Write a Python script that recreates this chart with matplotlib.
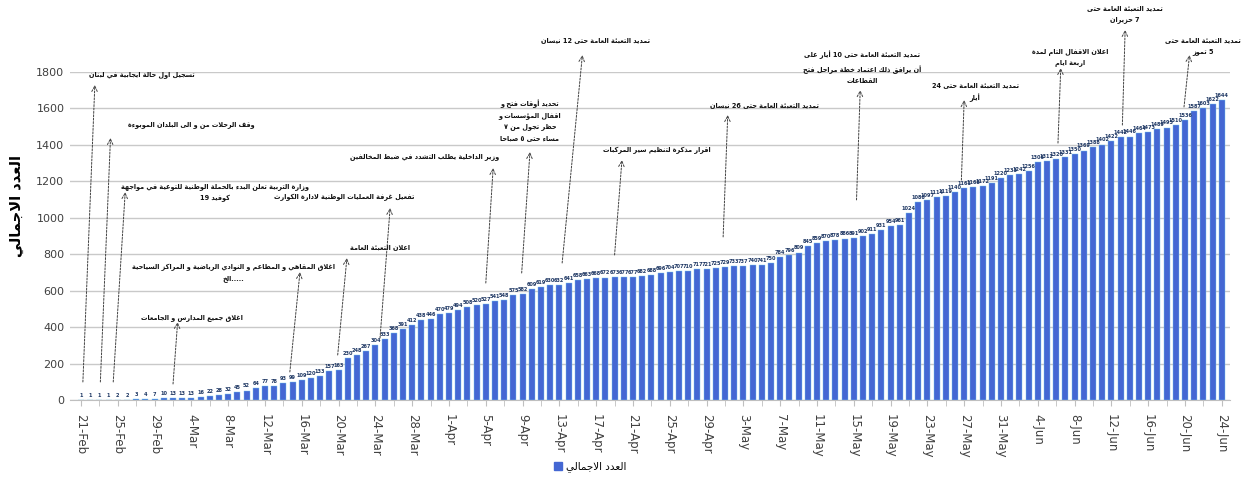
import re
import numpy as np
import pandas as pd
import matplotlib
matplotlib.use("Agg")
import matplotlib.pyplot as plt
from matplotlib.patches import Patch

# ---- data -------------------------------------------------------------
dates = pd.date_range("2020-02-21", "2020-06-24", freq="D")
cases_feb = [1, 1, 1, 1, 2, 2, 3, 4, 7]
cases_mar = [10, 13, 13, 13, 16, 22, 28, 32, 45, 52, 64, 77, 78, 93, 99, 109,
             120, 133, 157, 163, 230, 248, 267, 304, 333, 368, 391, 412, 438,
             446, 470]
cases_apr = [479, 494, 508, 520, 527, 541, 548, 575, 582, 609, 619, 630, 632,
             641, 658, 663, 668, 672, 673, 677, 677, 682, 688, 696, 704, 707,
             710, 717, 721, 725]
cases_may = [729, 733, 737, 740, 741, 750, 784, 796, 809, 845, 859, 870, 878,
             886, 891, 902, 911, 931, 954, 961, 1024, 1086, 1097, 1114, 1119,
             1140, 1161, 1168, 1172, 1191, 1220]
cases_jun = [1233, 1242, 1256, 1306, 1312, 1320, 1331, 1350, 1369, 1388, 1402,
             1422, 1442, 1446, 1464, 1473, 1489, 1495, 1510, 1536, 1587, 1603,
             1622, 1644]
cases = cases_feb + cases_mar + cases_apr + cases_may + cases_jun

series_name = "العدد الاجمالي"

# events: text, (text x, text y), arrow start (x, y), arrow end (x, y)
ev_text = [
    "تسجيل اول حالة ايجابية في لبنان",
    "وقف الرحلات من و الى البلدان الموبوءة",
    "وزارة التربية تعلن البدء بالحملة الوطنية للتوعية في مواجهة\nكوفيد 19",
    "اغلاق المقاهي و المطاعم و النوادي الرياضية و المراكز السياحية\n.....الخ",
    "اغلاق جميع المدارس و الجامعات",
    "اعلان التعبئة العامة",
    "تفعيل غرفة العمليات الوطنية لادارة الكوارث",
    "وزير الداخلية يطلب التشدد في ضبط المخالفين",
    "تحديد أوقات فتح و\nاقفال المؤسسات و\nحظر تجول من ٧\nمساء حتى ٥ صباحا",
    "تمديد التعبئة العامة حتى 12 نيسان",
    "اقرار مذكرة لتنظيم سير المركبات",
    "تمديد التعبئة العامة حتى 26 نيسان",
    "تمديد التعبئة العامة حتى 10 أيار على\nأن يرافق ذلك اعتماد خطة مراحل فتح\nالقطاعات",
    "تمديد التعبئة العامة حتى 24\nأيار",
    "اعلان الاقفال التام لمدة\nاربعة ايام",
    "تمديد التعبئة العامة حتى\n7 حزيران",
    "تمديد التعبئة العامة حتى\n5 تموز",
]
ev_text_xy = [(12.4, 1784), (18.9, 1509), (14.6, 1136), (16.6, 697),
              (12.1, 450), (32.5, 840), (28.6, 1114), (37.4, 1334),
              (48.8, 1537), (55.9, 1976), (62.6, 1372), (74.3, 1619),
              (84.9, 1827), (97.2, 1690), (107.5, 1882), (113.5, 2118),
              (122.0, 1943)]
ev_ha = ["right", "right", "center", "center", "center", "center", "center",
         "center", "center", "center", "center", "center", "center", "center",
         "center", "center", "center"]
ev_from = [(0.2, 99), (2.1, 99), (3.5, 99), (22.7, 154), (10.0, 88),
           (27.9, 247), (32.5, 340), (44.0, 642), (47.9, 697), (52.3, 752),
           (58.0, 796), (69.8, 895), (84.3, 1098), (95.7, 1207), (106.2, 1410),
           (113.2, 1509), (119.9, 1608)]
ev_to = [(1.5, 1729), (3.2, 1438), (4.8, 1141), (23.8, 702), (10.5, 428),
         (28.9, 779), (33.6, 1054), (44.8, 1273), (48.8, 1361), (54.5, 1893),
         (58.8, 1317), (70.3, 1564), (84.7, 1701), (96.0, 1646), (106.5, 1822),
         (113.5, 2031), (120.5, 1893)]

# ---- minimal arabic shaping (matplotlib has no RTL layout) ------------
_forms = [('ء', 0xFE80, 1), ('آ', 0xFE81, 2), ('أ', 0xFE83, 2), ('ؤ', 0xFE85, 2),
          ('إ', 0xFE87, 2), ('ئ', 0xFE89, 4), ('ا', 0xFE8D, 2), ('ب', 0xFE8F, 4),
          ('ة', 0xFE93, 2), ('ت', 0xFE95, 4), ('ث', 0xFE99, 4), ('ج', 0xFE9D, 4),
          ('ح', 0xFEA1, 4), ('خ', 0xFEA5, 4), ('د', 0xFEA9, 2), ('ذ', 0xFEAB, 2),
          ('ر', 0xFEAD, 2), ('ز', 0xFEAF, 2), ('س', 0xFEB1, 4), ('ش', 0xFEB5, 4),
          ('ص', 0xFEB9, 4), ('ض', 0xFEBD, 4), ('ط', 0xFEC1, 4), ('ظ', 0xFEC5, 4),
          ('ع', 0xFEC9, 4), ('غ', 0xFECD, 4), ('ف', 0xFED1, 4), ('ق', 0xFED5, 4),
          ('ك', 0xFED9, 4), ('ل', 0xFEDD, 4), ('م', 0xFEE1, 4), ('ن', 0xFEE5, 4),
          ('ه', 0xFEE9, 4), ('و', 0xFEED, 2), ('ى', 0xFEEF, 2), ('ي', 0xFEF1, 4)]
FORMS = {c: (b, n) for c, b, n in _forms}
LAMALEF = {'آ': 0xFEF5, 'أ': 0xFEF7, 'إ': 0xFEF9, 'ا': 0xFEFB}


def shape_line(s):
    toks = []
    i = 0
    while i < len(s):
        if s[i] == 'ل' and i + 1 < len(s) and s[i + 1] in LAMALEF:
            toks.append(('LA', s[i + 1]))
            i += 2
        else:
            toks.append(('C', s[i]))
            i += 1

    def j_left(t):
        return t[0] == 'C' and t[1] in FORMS and FORMS[t[1]][1] == 4

    def j_right(t):
        return t[0] == 'LA' or (t[1] in FORMS and FORMS[t[1]][1] >= 2)

    res = []
    for k, t in enumerate(toks):
        jp = k > 0 and j_left(toks[k - 1]) and j_right(t)
        jn = k + 1 < len(toks) and j_left(t) and j_right(toks[k + 1])
        if t[0] == 'LA':
            res.append(chr(LAMALEF[t[1]] + (1 if jp else 0)))
        elif t[1] in FORMS:
            b = FORMS[t[1]][0]
            off = 3 if (jp and jn) else 1 if jp else 2 if jn else 0
            res.append(chr(b + off))
        else:
            res.append(t[1])
    vis = ''.join(res)[::-1]
    return re.sub(r'[0-9\u0660-\u0669]+', lambda m: m.group(0)[::-1], vis)


def ar(s):
    return "\n".join(shape_line(l) for l in s.split("\n"))


# ---- plot -------------------------------------------------------------
plt.rcParams['font.family'] = ['DejaVu Sans']
fig = plt.figure(figsize=(12.47, 4.8), dpi=100)
ax = fig.add_axes([70 / 1247, 80 / 480, 1160 / 1247, 328 / 480])

x = np.arange(len(cases))
bars = ax.bar(x, cases, width=0.65, color='#4467d3', edgecolor='#74c8ec',
              linewidth=0.3, zorder=3)
ax.bar_label(bars, labels=[str(v) for v in cases], fontsize=3.6,
             fontweight='bold', color='#1f3864', padding=1.5)

ax.set_xlim(-1.2, 124.9)
ax.set_ylim(0, 1800)
ax.set_yticks(np.arange(0, 1801, 200))
ax.yaxis.grid(True, color='#c9c9c9', linewidth=1.0, zorder=0)
ax.tick_params(axis='y', length=0, labelsize=8, labelcolor='#404040', pad=4)
for s in ['top', 'right', 'left']:
    ax.spines[s].set_visible(False)
ax.spines['bottom'].set_color('#bfbfbf')

tick_pos = x[::4]
ax.set_xticks(tick_pos)
ax.set_xticklabels([f"{d.day}-{d.strftime('%b')}" for d in dates[::4]],
                   rotation=270, fontsize=8.5, color='#404040')
ax.set_xticks(x[::2], minor=True)
ax.tick_params(axis='x', which='both', direction='out', color='#bfbfbf',
               length=4, pad=6)

ax.set_ylabel(ar(series_name), fontsize=10.5, fontweight='bold')
ax.yaxis.set_label_coords(-0.04, 0.59)

for t, (tx, ty), ha, p0, p1 in zip(ev_text, ev_text_xy, ev_ha, ev_from, ev_to):
    ax.annotate('', xy=p1, xytext=p0, annotation_clip=False,
                arrowprops=dict(arrowstyle='->', color='#404040', lw=0.7,
                                linestyle=(0, (2, 1.5)), shrinkA=0, shrinkB=0))
    ax.text(tx, ty, ar(t), ha=ha, va='center', fontsize=4.7,
            fontweight='bold', color='#111111', clip_on=False,
            multialignment='center', linespacing=1.9)

fig.legend(handles=[Patch(color='#4467d3')], labels=[ar(series_name)],
           loc='center', bbox_to_anchor=(590 / 1247, 13 / 480), frameon=False,
           fontsize=7.5, handlelength=0.8, handleheight=0.8, handletextpad=0.3)

fig.savefig("out.png", dpi=100)
